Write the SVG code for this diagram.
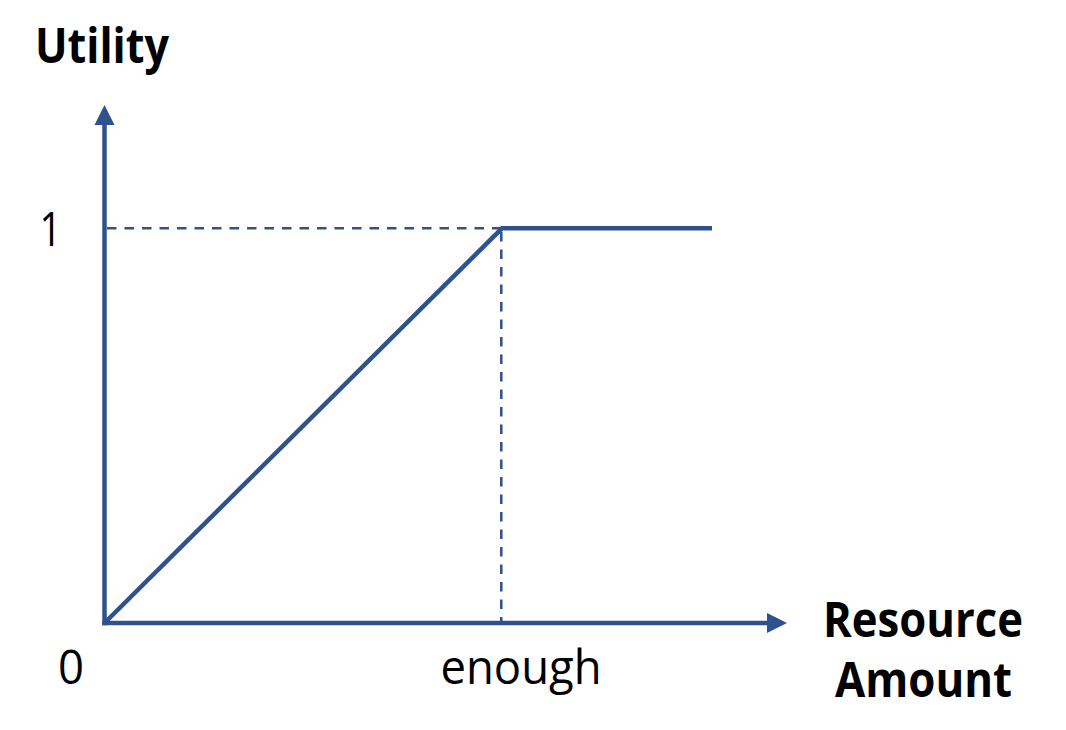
<svg xmlns="http://www.w3.org/2000/svg" width="1066" height="730" viewBox="0 0 1066 730">
<style>
.axis{stroke:#2F528F;stroke-width:4.5;fill:none}
.curve{stroke:#2F528F;stroke-width:4.5;fill:none;stroke-linejoin:miter}
.dash{stroke:#2F528F;stroke-width:2.5;fill:none;stroke-dasharray:9.5 8}
.lbl{font-family:"Open Sans","Liberation Sans",sans-serif;font-size:48px;fill:#000}
.bold{font-weight:bold}
</style>
<defs>
<marker id="arr" markerUnits="userSpaceOnUse" markerWidth="22" markerHeight="22" viewBox="0 0 20 20" refX="20" refY="10" orient="auto">
<path d="M0,0 L20,10 L0,20 Z" fill="#2F528F"/>
</marker>
</defs>
<rect width="1066" height="730" fill="#fff"/>
<g id="connectors">
<line class="dash" x1="107" y1="228.3" x2="500" y2="228.3"/>
<line class="dash" x1="501.3" y1="232" x2="501.3" y2="621"/>
<line class="axis" x1="104.5" y1="625.3" x2="104.5" y2="125" />
<path d="M104.5,125 L94.5,125 L104.5,105 L114.5,125 Z" fill="#2F528F"/>
<line class="axis" x1="102.3" y1="623" x2="767" y2="623"/>
<path d="M767,613 L787,623 L767,633 Z" fill="#2F528F"/>
<polyline class="curve" points="104.5,623 502,228.3 712,228.3"/>
</g>
<g id="label-utility"><text class="lbl bold" x="35" y="63" textLength="134" lengthAdjust="spacingAndGlyphs">Utility</text></g>
<g id="label-one"><text class="lbl" x="39.5" y="246" textLength="22" lengthAdjust="spacingAndGlyphs">1</text></g>
<g id="label-zero"><text class="lbl" x="58" y="684" textLength="26" lengthAdjust="spacingAndGlyphs">0</text></g>
<g id="label-enough"><text class="lbl" x="440.5" y="683.5" textLength="161" lengthAdjust="spacingAndGlyphs">enough</text></g>
<g id="label-resource"><text class="lbl bold" x="823" y="637" textLength="200" lengthAdjust="spacingAndGlyphs">Resource</text>
<text class="lbl bold" x="835" y="696.5" textLength="177" lengthAdjust="spacingAndGlyphs">Amount</text></g>
</svg>
